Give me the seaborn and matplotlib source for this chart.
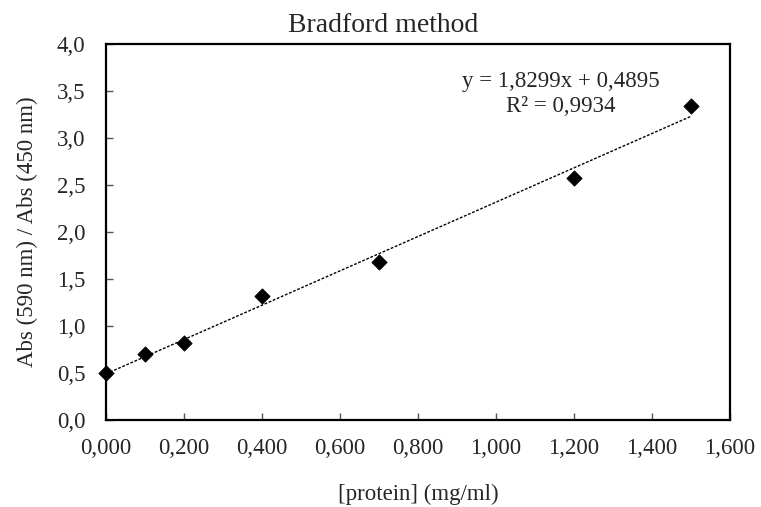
import numpy as np
import pandas as pd
import seaborn as sns
import matplotlib.pyplot as plt
from matplotlib.ticker import FuncFormatter, MultipleLocator

# Bradford calibration data
protein = [0.0, 0.1, 0.2, 0.4, 0.7, 1.2, 1.5]
absorbance = [0.50, 0.70, 0.815, 1.32, 1.68, 2.57, 3.34]
eq_text = "y = 1,8299x + 0,4895\nR² = 0,9934"

data = pd.DataFrame({"protein": protein, "ratio": absorbance})

sns.set_style("ticks")
plt.rcParams["font.family"] = ["Liberation Serif", "DejaVu Serif"]
plt.rcParams["xtick.direction"] = "in"
plt.rcParams["ytick.direction"] = "in"

fig, ax = plt.subplots(figsize=(7.61, 5.07), dpi=100)
fig.subplots_adjust(left=106/761, right=730/761, top=1-44/507, bottom=1-420/507)

# linear trendline
sns.regplot(data=data, x="protein", y="ratio", ax=ax, scatter=False, ci=None,
            line_kws=dict(color="black", lw=1, ls=(0, (2, 1.2))))
sns.scatterplot(data=data, x="protein", y="ratio", ax=ax, marker="D", s=60,
                color="black", edgecolor="black", zorder=3, clip_on=False)

ax.set_xlim(0, 1.6)
ax.set_ylim(0, 4.0)
ax.xaxis.set_major_locator(MultipleLocator(0.2))
ax.yaxis.set_major_locator(MultipleLocator(0.5))
ax.xaxis.set_major_formatter(FuncFormatter(lambda v, p: f"{v:.3f}".replace(".", ",")))
ax.yaxis.set_major_formatter(FuncFormatter(lambda v, p: f"{v:.1f}".replace(".", ",")))
ax.tick_params(labelsize=16.5, length=5, width=1, color="#555555")
ax.tick_params(axis="x", pad=13)
ax.tick_params(axis="y", pad=15)

for sp in ax.spines.values():
    sp.set_linewidth(1.6)
    sp.set_color("black")

ax.set_xlabel("[protein] (mg/ml)", fontsize=16.5, labelpad=18)
ax.set_ylabel("Abs (590 nm) / Abs (450 nm)", fontsize=16.5, labelpad=13)
# title is centred on the whole chart, not the plot area
fig.suptitle("Bradford method", fontsize=20, x=0.503, y=1-32/507, va="baseline")

ax.text(1.167, 3.468, eq_text, ha="center", va="center", fontsize=16.5,
        multialignment="center", linespacing=1.2)

fig.savefig("out.png", dpi=100)
